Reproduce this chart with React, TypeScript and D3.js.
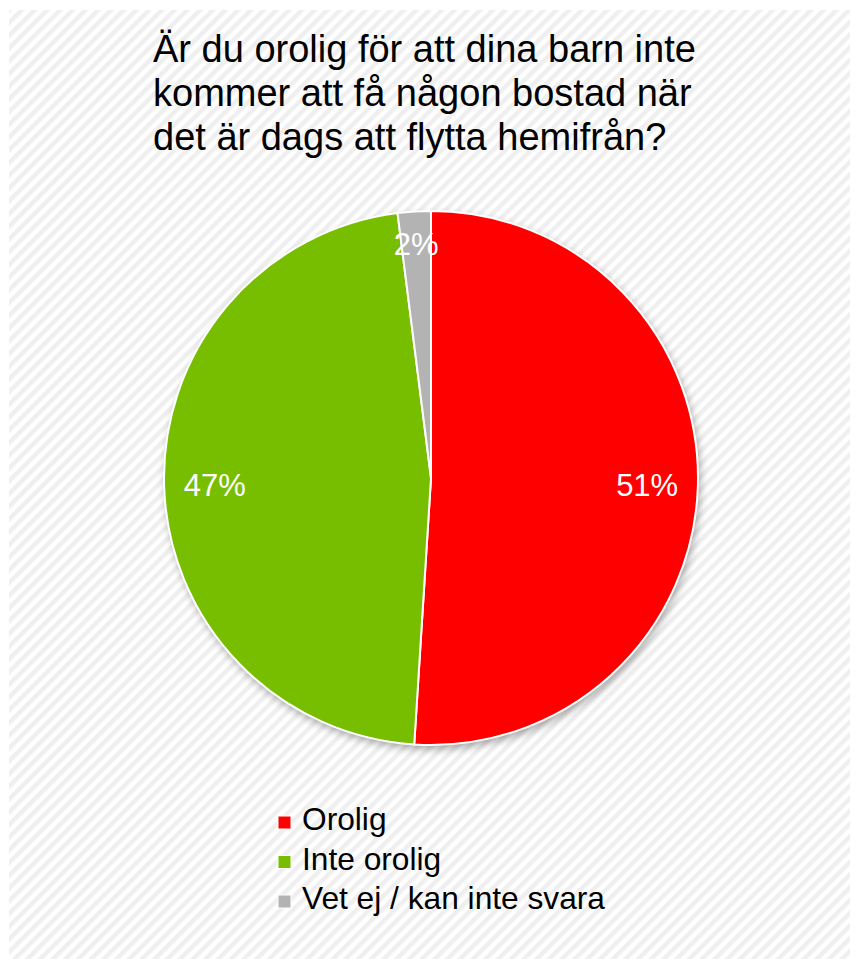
import React from 'react';
import * as d3 from 'd3';

// survey answers (percent)
const categories = ['Orolig', 'Inte orolig', 'Vet ej / kan inte svara'];
const values = [51, 47, 2];
const colors = ['#ff0000', '#78be00', '#b3b3b3'];
const titleLines = [
  'Är du orolig för att dina barn inte',
  'kommer att få någon bostad när',
  'det är dags att flytta hemifrån?',
];

const W = 850;
const H = 951;
const font = '"Liberation Sans", Arial, sans-serif';

export default function App() {
  const cx = 423;
  const cy = 470;
  const r = 267;

  const pie = d3
    .pie<number>()
    .sort(null)
    .value((d) => d);
  const arcs = pie(values);
  const arc = d3.arc<d3.PieArcDatum<number>>().innerRadius(0).outerRadius(r);
  const labelArc = (ratio: number) =>
    d3.arc<d3.PieArcDatum<number>>().innerRadius(r * ratio).outerRadius(r * ratio);

  return (
    <svg width={W} height={H} style={{ display: 'block' }}>
      <defs>
        <pattern
          id="stripes"
          patternUnits="userSpaceOnUse"
          width={9}
          height={9}
          patternTransform="rotate(45)"
        >
          <rect width={9} height={9} fill="#ffffff" />
          <rect width={4.5} height={9} fill="#efefef" />
        </pattern>
        <filter id="shadow" x="-20%" y="-20%" width="140%" height="140%">
          <feDropShadow dx={2} dy={4} stdDeviation={4} floodColor="#000" floodOpacity={0.35} />
        </filter>
      </defs>

      <rect x={1} y={2} width={W - 1} height={H - 2} fill="url(#stripes)" />

      <text fontFamily={font} fontSize={38} fill="#000">
        {titleLines.map((t, i) => (
          <tspan key={i} x={145} y={54 + i * 44}>
            {t}
          </tspan>
        ))}
      </text>

      <g transform={`translate(${cx},${cy})`}>
        <circle r={r} fill="#fff" filter="url(#shadow)" />
        {arcs.map((a, i) => (
          <path key={i} d={arc(a) ?? ''} fill={colors[i]} stroke="#fff" strokeWidth={2} />
        ))}
        {arcs.map((a, i) => {
          const [lx, ly] = labelArc(a.data < 5 ? 0.88 : 0.81).centroid(a);
          return (
            <text
              key={i}
              x={lx}
              y={ly}
              dy="0.36em"
              textAnchor="middle"
              fontFamily={font}
              fontSize={31}
              fill="#fff"
            >
              {`${a.data}%`}
            </text>
          );
        })}
      </g>

      <g>
        {categories.map((c, i) => (
          <g key={c} transform={`translate(270,${822 + i * 39.5})`}>
            <rect x={0} y={-14} width={13} height={13} fill={colors[i]} stroke="#fff" strokeWidth={1} />
            <text x={24} y={0} fontFamily={font} fontSize={31.7} fill="#000">
              {c}
            </text>
          </g>
        ))}
      </g>
    </svg>
  );
}
